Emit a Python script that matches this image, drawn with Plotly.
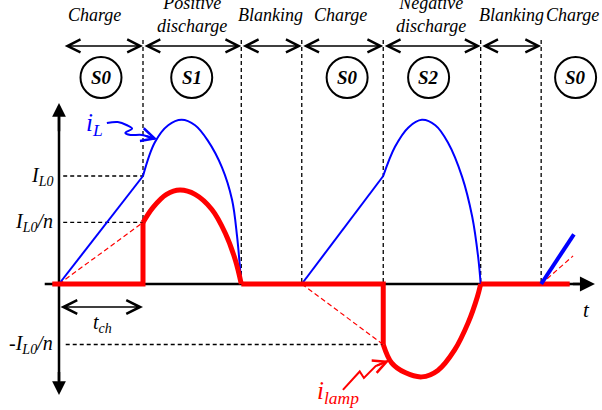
import plotly.graph_objects as go

# time in units of t_ch, current in units of I_L0
bounds = [0.05, 1.0, 2.17, 2.89, 3.86, 5.02, 5.74]
dash_t = [1.0, 2.17, 2.89, 3.86, 5.02, 5.74]
phase_names = ["Charge", "Positive<br>discharge", "Blanking", "Charge",
               "Negative<br>discharge", "Blanking", "Charge"]
phase_t = [0.42, 1.58, 2.52, 3.35, 4.43, 5.39, 6.11]
state_names = ["S0", "S1", "S0", "S2", "S0"]
state_t = [0.5, 1.58, 3.43, 4.4, 6.15]

IL0 = 1.0
IL0n = 0.57
IL0n_neg = -0.56

# inductor current i_L
ramp1_t = [0, 1.0]
ramp1_i = [0, 1.0]
arc1_t = [1.0, 1.14, 1.30, 1.46, 1.62, 1.77, 1.94, 2.06, 2.12, 2.17]
arc1_i = [1.0, 1.31, 1.47, 1.52, 1.47, 1.33, 1.08, 0.78, 0.44, 0]
ramp2_t = [2.89, 3.86]
ramp2_i = [0, 1.0]
arc2_t = [3.86, 4.0, 4.16, 4.32, 4.48, 4.63, 4.80, 4.92, 4.99, 5.02]
arc2_i = [1.0, 1.27, 1.45, 1.52, 1.47, 1.31, 0.99, 0.62, 0.25, 0]
ramp3_t = [5.74, 6.13]
ramp3_i = [0, 0.46]

# lamp current i_lamp
lamp_step1_t = [-0.08, 1.0, 1.0]
lamp_step1_i = [0, 0, 0.57]
lamp_arc1_t = [1.0, 1.12, 1.28, 1.44, 1.62, 1.82, 1.98, 2.10, 2.17]
lamp_arc1_i = [0.57, 0.71, 0.83, 0.87, 0.83, 0.69, 0.47, 0.22, 0]
lamp_step2_t = [2.17, 3.86, 3.86]
lamp_step2_i = [0, 0, -0.56]
lamp_arc2_t = [3.86, 3.96, 4.12, 4.32, 4.51, 4.71, 4.87, 4.98, 5.02]
lamp_arc2_i = [-0.56, -0.73, -0.82, -0.86, -0.80, -0.61, -0.36, -0.12, 0]
lamp_step3_t = [5.02, 6.08]
lamp_step3_i = [0, 0]

# reflected i_L/n during charge
refl_t = [0, 1.0, None, 2.89, 3.86, None, 5.74, 6.12]
refl_i = [0, 0.57, None, 0, -0.56, None, 0, 0.26]

# pointer squiggles
ptrL_t = [0.57, 0.70, 0.81, 0.87, 0.79, 0.85, 0.99, 1.14]
ptrL_i = [1.49, 1.50, 1.47, 1.44, 1.40, 1.38, 1.38, 1.34]
ptrlamp_t = [3.38, 3.58, 3.63, 3.77, 3.92]
ptrlamp_i = [-0.98, -0.81, -0.87, -0.76, -0.71]

BLUE = "#0000ff"
RED = "#ff0000"
SERIF = "Liberation Serif"

fig = go.Figure()

# dashed guides
vt, vi = [], []
for t in dash_t:
    vt += [t, t, None]
    vi += [2.26, 0, None]
fig.add_trace(go.Scatter(x=vt, y=vi, mode="lines",
                         line=dict(color="black", width=1.3, dash="4px,3px")))
fig.add_trace(go.Scatter(x=[0.05, 1.0, None, 0.05, 1.0, None, 0.08, 3.86],
                         y=[IL0, IL0, None, IL0n, IL0n, None, IL0n_neg, IL0n_neg],
                         mode="lines", line=dict(color="black", width=1.3, dash="4px,3px")))

# axes
fig.add_trace(go.Scatter(x=[-0.17, 6.2], y=[0, 0], mode="lines",
                         line=dict(color="black", width=2.5)))
fig.add_trace(go.Scatter(x=[0, 0], y=[1.55, -0.9], mode="lines",
                         line=dict(color="black", width=2.5)))

fig.add_trace(go.Scatter(x=refl_t, y=refl_i, mode="lines",
                         line=dict(color=RED, width=1.2, dash="5px,3px")))

# i_L
fig.add_trace(go.Scatter(x=ramp1_t, y=ramp1_i, mode="lines", line=dict(color=BLUE, width=2)))
fig.add_trace(go.Scatter(x=arc1_t, y=arc1_i, mode="lines", line=dict(color=BLUE, width=2, shape="spline")))
fig.add_trace(go.Scatter(x=ramp2_t, y=ramp2_i, mode="lines", line=dict(color=BLUE, width=2)))
fig.add_trace(go.Scatter(x=arc2_t, y=arc2_i, mode="lines", line=dict(color=BLUE, width=2, shape="spline")))

# i_lamp
for tt, ii, shp in [(lamp_step1_t, lamp_step1_i, "linear"), (lamp_arc1_t, lamp_arc1_i, "spline"),
                    (lamp_step2_t, lamp_step2_i, "linear"), (lamp_arc2_t, lamp_arc2_i, "spline"),
                    (lamp_step3_t, lamp_step3_i, "linear")]:
    fig.add_trace(go.Scatter(x=tt, y=ii, mode="lines", line=dict(color=RED, width=5, shape=shp)))

fig.add_trace(go.Scatter(x=ramp3_t, y=ramp3_i, mode="lines", line=dict(color=BLUE, width=4)))

fig.add_trace(go.Scatter(x=ptrL_t, y=ptrL_i, mode="lines", line=dict(color=BLUE, width=2, shape="spline")))
fig.add_trace(go.Scatter(x=ptrlamp_t, y=ptrlamp_i, mode="lines", line=dict(color=RED, width=2)))

ann = []
# axis arrowheads
for x, y, ax, ay, size in [(0, 1.676, 0, 1.4, 1.1), (0, -1.028, 0, -0.8, 1.1), (6.38, 0, 6.1, 0, 1.2)]:
    ann.append(dict(x=x, y=y, ax=ax, ay=ay, xref="x", yref="y", axref="x", ayref="y",
                    text="", showarrow=True, arrowhead=2, arrowsize=size, arrowwidth=2.5,
                    arrowcolor="black"))
# phase arrows
for a, b in zip(bounds[:-1], bounds[1:]):
    ann.append(dict(x=b, y=2.204, ax=a, ay=2.204, xref="x", yref="y", axref="x", ayref="y",
                    text="", showarrow=True, arrowhead=5, startarrowhead=5, arrowside="end+start",
                    arrowsize=1.7, startarrowsize=1.7, arrowwidth=1.5, arrowcolor="black"))
# t_ch arrow
ann.append(dict(x=1.0, y=-0.213, ax=0, ay=-0.213, xref="x", yref="y", axref="x", ayref="y",
                text="", showarrow=True, arrowhead=5, startarrowhead=5, arrowside="end+start",
                arrowsize=1.8, startarrowsize=1.8, arrowwidth=1.5, arrowcolor="black"))
# squiggle heads
ann.append(dict(x=1.17, y=1.34, ax=1.02, ay=1.375, xref="x", yref="y", axref="x", ayref="y",
                text="", showarrow=True, arrowhead=5, arrowsize=1.3, arrowwidth=2, arrowcolor=BLUE))
ann.append(dict(x=3.93, y=-0.71, ax=3.77, ay=-0.76, xref="x", yref="y", axref="x", ayref="y",
                text="", showarrow=True, arrowhead=5, arrowsize=1.3, arrowwidth=2, arrowcolor=RED))

# phase labels
for name, t in zip(phase_names, phase_t):
    ann.append(dict(x=t, y=2.495, xref="x", yref="y", text="<i>%s</i>" % name, showarrow=False,
                    font=dict(family=SERIF, size=18, color="black")))
# state circles and labels
shapes = []
for name, t in zip(state_names, state_t):
    shapes.append(dict(type="circle", xref="x", yref="y", xsizemode="pixel", ysizemode="pixel",
                       xanchor=t, yanchor=1.912, x0=-20.5, x1=20.5, y0=-20.5, y1=20.5,
                       line=dict(color="black", width=2)))
    ann.append(dict(x=t, y=1.912, xref="x", yref="y", text="<b><i>%s</i></b>" % name, showarrow=False,
                    font=dict(family=SERIF, size=19, color="black")))

# level labels
for txt, lvl in [("<i>I<sub>L0</sub></i>", IL0), ("<i>I<sub>L0</sub>/n</i>", IL0n),
                 ("-<i>I<sub>L0</sub>/n</i>", IL0n_neg)]:
    ann.append(dict(x=-0.05, y=lvl, xref="x", yref="y", text=txt, showarrow=False,
                    xanchor="right", font=dict(family=SERIF, size=20, color="black")))

ann.append(dict(x=0.52, y=-0.37, xref="x", yref="y", text="<i>t<sub>ch</sub></i>", showarrow=False,
                font=dict(family=SERIF, size=20, color="black")))
ann.append(dict(x=6.28, y=-0.24, xref="x", yref="y", text="<i>t</i>", showarrow=False,
                font=dict(family=SERIF, size=21, color="black")))
ann.append(dict(x=0.42, y=1.48, xref="x", yref="y", text="<i>i<sub>L</sub></i>", showarrow=False,
                font=dict(family=SERIF, size=25, color=BLUE)))
ann.append(dict(x=3.32, y=-1.0, xref="x", yref="y", text="<i>i<sub>lamp</sub></i>", showarrow=False,
                font=dict(family=SERIF, size=25, color=RED)))

fig.update_layout(
    width=602, height=410,
    margin=dict(l=0, r=0, t=0, b=0),
    paper_bgcolor="white", plot_bgcolor="white",
    showlegend=False,
    xaxis=dict(range=[-59 / 84, 543 / 84], visible=False, fixedrange=True),
    yaxis=dict(range=[-126 / 108, 284 / 108], visible=False, fixedrange=True),
    annotations=ann, shapes=shapes,
)

fig.write_html("out.html", config={"displayModeBar": False},
               post_script="document.body.style.margin='0';")
